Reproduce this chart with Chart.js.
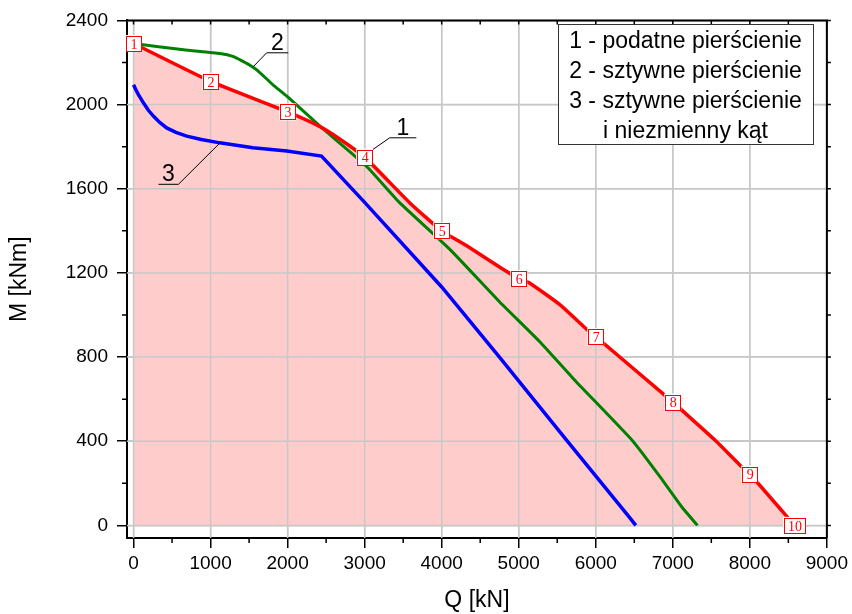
<!DOCTYPE html>
<html>
<head>
<meta charset="utf-8">
<script src="https://cdn.jsdelivr.net/npm/chart.js@4/dist/chart.umd.min.js"></script>
<style>
  html, body { margin: 0; padding: 0; background: #fff; }
</style>
</head>
<body>
<canvas id="myChart" width="852" height="614"></canvas>
<script>
// 1 - podatne pierścienie (red, filled)
const q1 = [0, 1000, 2000, 2420, 2680, 3000, 3580, 4000, 4320, 4750, 5000, 5140, 5530, 5870, 6000, 6860, 7000, 7560, 7860, 8000, 8580];
const m1 = [2290, 2110, 1965, 1895, 1835, 1750, 1535, 1400, 1330, 1228, 1173, 1152, 1050, 936, 897, 630, 586, 401, 291, 244, 0];

// numbered points on curve 1
const markQ = [0, 1000, 2000, 3000, 4000, 5000, 6000, 7000, 8000, 8580];
const markM = [2290, 2110, 1965, 1750, 1400, 1173, 897, 586, 244, 0];
const markLabels = ['1', '2', '3', '4', '5', '6', '7', '8', '9', '10'];

// 2 - sztywne pierścienie (green)
const q2 = [0, 650, 1120, 1300, 1420, 1510, 1600, 1810, 1990, 2420, 3020, 3450, 4100, 4750, 5270, 5740, 6480, 6870, 7120, 7320];
const m2 = [2290, 2260, 2243, 2228, 2205, 2187, 2165, 2094, 2040, 1897, 1708, 1535, 1314, 1063, 874, 685, 401, 213, 86, 0];

// 3 - sztywne pierścienie i niezmienny kąt (blue)
const q3 = [0, 30, 65, 130, 190, 260, 340, 430, 550, 690, 880, 1120, 1550, 1990, 2440, 3000, 4000, 4750, 4970, 5610, 6430, 6520];
const m3 = [2094, 2070, 2046, 2007, 1974, 1944, 1915, 1889, 1868, 1850, 1834, 1818, 1795, 1779, 1755, 1535, 1133, 800, 700, 410, 42, 0];

const xTicks = [0, 1000, 2000, 3000, 4000, 5000, 6000, 7000, 8000, 9000];
const yTicks = [0, 400, 800, 1200, 1600, 2000, 2400];

const legendLines = ['1 - podatne pierścienie', '2 - sztywne pierścienie', '3 - sztywne pierścienie', 'i niezmienny kąt'];

// curve numbers with leader lines: underline from q0 to q1 at m, leader from the 'from' end to (toQ, toM)
const calloutText = ['1', '2', '3'];
const calloutLine = [[3325, 3671, 1842], [1728, 2008, 2246], [324, 583, 1621]];
const calloutFrom = ['left', 'left', 'right'];
const calloutTo = [[3109, 1787], [1554, 2180], [1123, 1818]];

const FONT = 'Arial, "Liberation Sans", sans-serif';
const pts = (xs, ys) => xs.map((x, i) => ({ x: x, y: ys[i] }));
const FILL_INDEX = 4;

const mids = (arr) => arr.slice(1).map((v, i) => (v + arr[i]) / 2);

// gridlines again on top of the pink area
const gridOverFill = {
  id: 'gridOverFill',
  afterDatasetDraw(chart, args) {
    if (args.index !== FILL_INDEX) return;
    const { ctx, chartArea: a, scales: { x, y } } = chart;
    ctx.save();
    ctx.strokeStyle = '#c8c8c8';
    ctx.lineWidth = 1.5;
    ctx.beginPath();
    xTicks.forEach(v => { const px = x.getPixelForValue(v); ctx.moveTo(px, a.top); ctx.lineTo(px, a.bottom); });
    yTicks.forEach(v => { const py = y.getPixelForValue(v); ctx.moveTo(a.left, py); ctx.lineTo(a.right, py); });
    ctx.stroke();
    ctx.restore();
  }
};

const decorations = {
  id: 'decorations',
  afterDatasetsDraw(chart) {
    const { ctx, chartArea: a, scales: { x, y } } = chart;
    ctx.save();

    // numbered boxes
    const meta = chart.getDatasetMeta(5);
    ctx.font = '14px "Times New Roman", "Liberation Serif", serif';
    ctx.textAlign = 'center';
    ctx.textBaseline = 'middle';
    meta.data.forEach((el, i) => {
      const t = markLabels[i];
      const w = t.length > 1 ? 21 : 15, h = 15;
      ctx.fillStyle = '#fff';
      ctx.fillRect(el.x - w / 2 - 1, el.y - h / 2 - 1, w + 2, h + 2);
      ctx.strokeStyle = '#ff0000';
      ctx.lineWidth = 1;
      ctx.strokeRect(Math.round(el.x - w / 2) + 0.5, Math.round(el.y - h / 2) + 0.5, w, h);
      ctx.fillStyle = '#ff0000';
      ctx.fillText(t, el.x + 0.5, el.y + 1.5);
    });

    // curve numbers
    ctx.strokeStyle = '#000';
    ctx.fillStyle = '#000';
    ctx.lineWidth = 1;
    ctx.font = '23px ' + FONT;
    ctx.textBaseline = 'alphabetic';
    calloutText.forEach((t, i) => {
      const [qa, qb, m] = calloutLine[i];
      const xa = x.getPixelForValue(qa), xb = x.getPixelForValue(qb), yl = y.getPixelForValue(m);
      const [tq, tm] = calloutTo[i];
      const sx = calloutFrom[i] === 'left' ? xa : xb;
      ctx.beginPath();
      ctx.moveTo(xa, yl); ctx.lineTo(xb, yl);
      ctx.moveTo(sx, yl); ctx.lineTo(x.getPixelForValue(tq), y.getPixelForValue(tm));
      ctx.stroke();
      ctx.fillText(t, (xa + xb) / 2, yl - 3);
    });
    ctx.restore();
  },
  afterDraw(chart) {
    const { ctx, chartArea: a, scales: { x, y } } = chart;
    ctx.save();
    // frame top/right
    ctx.strokeStyle = '#000';
    ctx.lineWidth = 2;
    ctx.beginPath();
    ctx.moveTo(a.left, a.top); ctx.lineTo(a.right, a.top); ctx.lineTo(a.right, a.bottom);
    ctx.stroke();

    ctx.lineWidth = 1.5;
    ctx.beginPath();
    mids(xTicks).forEach(v => { const px = x.getPixelForValue(v); ctx.moveTo(px, a.bottom); ctx.lineTo(px, a.bottom + 5); });
    mids(yTicks).forEach(v => { const py = y.getPixelForValue(v); ctx.moveTo(a.left, py); ctx.lineTo(a.left - 5, py); });
    xTicks.concat(mids(xTicks)).forEach(v => { const px = x.getPixelForValue(v); ctx.moveTo(px, a.top); ctx.lineTo(px, a.top + 4); });
    yTicks.concat(mids(yTicks)).forEach(v => { const py = y.getPixelForValue(v); ctx.moveTo(a.right, py); ctx.lineTo(a.right + 4, py); });
    ctx.stroke();

    // legend box
    const bx = 558, by = 24, bw = 255, bh = 120;
    ctx.fillStyle = '#fff';
    ctx.fillRect(bx, by, bw, bh);
    ctx.lineWidth = 1;
    ctx.strokeStyle = '#333';
    ctx.strokeRect(bx + 0.5, by + 0.5, bw, bh);
    ctx.fillStyle = '#000';
    ctx.font = '23px ' + FONT;
    ctx.textAlign = 'center';
    ctx.textBaseline = 'middle';
    legendLines.forEach((t, i) => ctx.fillText(t, bx + bw / 2, by + 18 + i * 30));
    ctx.restore();
  }
};

const ctx = document.getElementById('myChart').getContext('2d');
new Chart(ctx, {
  type: 'scatter',
  data: {
    datasets: [
      { label: '1', data: pts(q1, m1), showLine: true, borderColor: '#ff0000', borderWidth: 3.5, pointRadius: 0, tension: 0.15, fill: false },
      { label: '2', data: pts(q2, m2), showLine: true, borderColor: '#008000', borderWidth: 3, pointRadius: 0, tension: 0.15, fill: false },
      { label: '3', data: pts(q3, m3), showLine: true, borderColor: '#0000ff', borderWidth: 3.5, pointRadius: 0, tension: 0, fill: false },
      { label: 'spacer', data: [], showLine: false, pointRadius: 0 },
      { label: 'area', data: pts(q1, m1), showLine: true, borderWidth: 0, borderColor: 'rgba(0,0,0,0)', backgroundColor: '#ffcccc', pointRadius: 0, tension: 0.15, fill: 'origin' },
      { label: 'marks', data: pts(markQ, markM), showLine: false, pointRadius: 0 }
    ]
  },
  options: {
    responsive: false,
    animation: false,
    layout: { padding: { top: 17, right: 25, left: 0, bottom: 0 } },
    plugins: { legend: { display: false }, tooltip: { enabled: false } },
    scales: {
      x: {
        type: 'linear', min: -85, max: 9000,
        afterBuildTicks: (axis) => { axis.ticks = xTicks.map(v => ({ value: v })); },
        afterFit: (axis) => { axis.height = 76; },
        grid: { color: '#c8c8c8', lineWidth: 1.5, tickColor: '#000', tickLength: 10, tickWidth: 1.5 },
        border: { color: '#000', width: 2 },
        ticks: { color: '#000', font: { family: FONT, size: 19 }, padding: 4, maxRotation: 0, callback: (v) => String(v) },
        title: { display: true, text: 'Q [kN]', color: '#000', font: { family: FONT, size: 23 }, padding: { top: 0, bottom: 0 } }
      },
      y: {
        type: 'linear', min: -60, max: 2400,
        afterBuildTicks: (axis) => { axis.ticks = yTicks.map(v => ({ value: v })); },
        afterFit: (axis) => { axis.width = 127; },
        grid: { color: '#c8c8c8', lineWidth: 1.5, tickColor: '#000', tickLength: 10, tickWidth: 1.5 },
        border: { color: '#000', width: 2 },
        ticks: { color: '#000', font: { family: FONT, size: 19 }, padding: 9, callback: (v) => String(v) },
        title: { display: true, text: 'M [kNm]', color: '#000', font: { family: FONT, size: 23 }, padding: { top: 6, bottom: 0 } }
      }
    }
  },
  plugins: [gridOverFill, decorations]
});
</script>
</body>
</html>
